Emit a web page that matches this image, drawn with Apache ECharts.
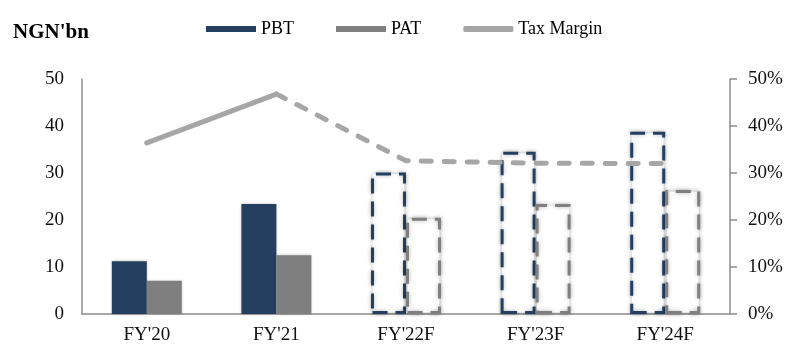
<!DOCTYPE html>
<html>
<head>
<meta charset="utf-8">
<script src="https://cdn.jsdelivr.net/npm/echarts@6/dist/echarts.min.js"></script>
<style>
html,body{margin:0;padding:0;background:#fff;}
#c{width:787px;height:347px;}
</style>
</head>
<body>
<div id="c"></div>
<script>
var categories = ["FY'20", "FY'21", "FY'22F", "FY'23F", "FY'24F"];
var pbt = [11.2, 23.4, 30.1, 34.5, 38.8];
var pat = [7.1, 12.5, 20.5, 23.4, 26.4];
var taxMargin = [36.4, 46.8, 32.6, 32.1, 32.0];
var isForecast = [false, false, true, true, true];
var leftTicks = [0, 10, 20, 30, 40, 50];
var rightTicks = [0, 10, 20, 30, 40, 50];

var NAVY = '#243F60';
var GREY = '#7F7F7F';
var LIGHT = '#A6A6A6';
var FONT = '"Liberation Serif", "DejaVu Serif", serif';

function barData(vals, color) {
  return vals.map(function (v, i) {
    if (isForecast[i]) {
      return {
        value: v,
        itemStyle: {
          color: '#fff',
          borderColor: color,
          borderWidth: 3,
          borderType: [15, 8],
          shadowBlur: 4,
          shadowColor: 'rgba(0,0,0,0.3)'
        }
      };
    }
    return { value: v };
  });
}

var lastActual = isForecast.indexOf(true) - 1;
var solidLine = taxMargin.map(function (v, i) { return i <= lastActual ? v : null; });
var dashLine = taxMargin.map(function (v, i) { return i >= lastActual ? v : null; });

var chart = echarts.init(document.getElementById('c'), null, { renderer: 'canvas' });
chart.setOption({
  animation: false,
  backgroundColor: '#fff',
  textStyle: { fontFamily: FONT },
  title: {
    text: "NGN'bn",
    left: 8,
    top: 17,
    textStyle: { fontFamily: FONT, fontSize: 21, fontWeight: 'bold', color: '#000' }
  },
  legend: {
    left: 201,
    top: 15,
    itemWidth: 50,
    itemHeight: 6,
    itemGap: 42,
    textStyle: { fontFamily: FONT, fontSize: 18, color: '#000' },
    data: [
      { name: 'PBT', icon: 'rect' },
      { name: 'PAT', icon: 'rect' },
      { name: 'Tax Margin', icon: 'roundRect' }
    ]
  },
  grid: { left: 82, right: 57, top: 79, bottom: 33, containLabel: false },
  xAxis: {
    type: 'category',
    data: categories,
    axisLine: { lineStyle: { color: '#8C8C8C', width: 1.5 } },
    axisTick: { show: false },
    axisLabel: { fontFamily: FONT, fontSize: 19, color: '#111', margin: 12 }
  },
  yAxis: [
    {
      type: 'value',
      min: leftTicks[0],
      max: leftTicks[leftTicks.length - 1],
      interval: leftTicks[1] - leftTicks[0],
      splitLine: { show: false },
      axisLine: { show: true, lineStyle: { color: '#8C8C8C', width: 1.5 } },
      axisTick: { show: false },
      axisLabel: { fontFamily: FONT, fontSize: 19, color: '#111', margin: 18 }
    },
    {
      type: 'value',
      min: rightTicks[0],
      max: rightTicks[rightTicks.length - 1],
      interval: rightTicks[1] - rightTicks[0],
      position: 'right',
      splitLine: { show: false },
      axisLine: { show: true, lineStyle: { color: '#8C8C8C', width: 1.5 } },
      axisTick: { show: true, length: 7, lineStyle: { color: '#8C8C8C', width: 1.5 } },
      axisLabel: { fontFamily: FONT, fontSize: 19, color: '#111', margin: 18, formatter: '{value}%' }
    }
  ],
  series: [
    {
      name: 'PBT',
      type: 'bar',
      barWidth: 35,
      barGap: '0%',
      itemStyle: { color: NAVY, shadowBlur: 3, shadowColor: 'rgba(0,0,0,0.25)' },
      data: barData(pbt, NAVY),
      z: 2
    },
    {
      name: 'PAT',
      type: 'bar',
      barWidth: 35,
      barGap: '0%',
      itemStyle: { color: GREY, shadowBlur: 3, shadowColor: 'rgba(0,0,0,0.25)' },
      data: barData(pat, GREY),
      z: 2
    },
    {
      name: 'Tax Margin',
      type: 'line',
      yAxisIndex: 1,
      data: solidLine,
      symbol: 'none',
      lineStyle: { color: LIGHT, width: 5, cap: 'round', join: 'round' },
      itemStyle: { color: LIGHT },
      z: 3
    },
    {
      name: 'Tax Margin (F)',
      type: 'line',
      yAxisIndex: 1,
      data: dashLine,
      symbol: 'none',
      lineStyle: { color: LIGHT, width: 5, type: [10, 13], cap: 'round', join: 'round' },
      itemStyle: { color: LIGHT },
      z: 3
    }
  ]
});
</script>
</body>
</html>
